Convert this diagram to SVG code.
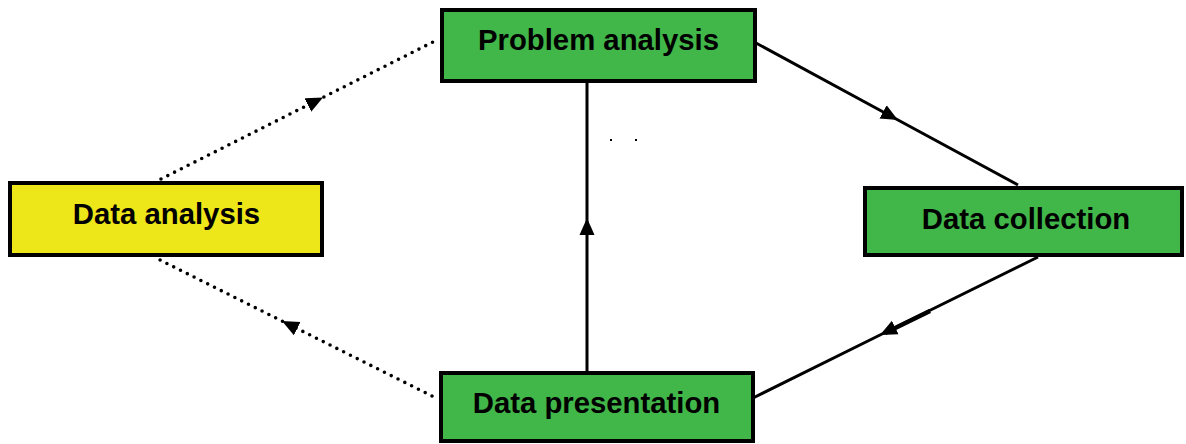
<svg xmlns="http://www.w3.org/2000/svg" width="1186" height="444" viewBox="0 0 1186 444">
<style>
.box{stroke:#000;stroke-width:4}
.green{fill:#41b649}
.yellow{fill:#ede618}
.lbl{font-family:"Liberation Sans",Arial,sans-serif;font-weight:bold;font-size:29.3px;fill:#000;text-anchor:middle}
.solid{fill:none;stroke:#000;stroke-width:3}
.dot{fill:none;stroke:#000;stroke-width:3.6;stroke-linecap:round;stroke-dasharray:0 7.6}
</style>
<defs>
<marker id="ah" viewBox="-17 -8 17 16" refX="0" refY="0" markerWidth="17" markerHeight="16" markerUnits="userSpaceOnUse" orient="auto">
<path d="M0,0 L-17,-7.5 L-17,7.5 Z" fill="#000" stroke="none"/>
</marker>
</defs>
<rect width="1186" height="444" fill="#fff"/>
<g id="connectors">
<polyline class="dot" points="161,179 323,97.4 435,41" marker-mid="url(#ah)"/>
<polyline class="dot" points="432,396 282,321 158,259" marker-mid="url(#ah)"/>
<polyline class="solid" points="756,43 898,120 1018,185" marker-mid="url(#ah)"/>
<polyline class="solid" points="1038,257 880,335 753,398" marker-mid="url(#ah)"/>
<line x1="885" y1="333" x2="930" y2="311" stroke="#000" stroke-width="4.5"/>
<polyline class="solid" points="587,372 587,218 587,80" marker-mid="url(#ah)"/>
</g>
<g id="problem-analysis">
<rect class="box green" x="442" y="10" width="313" height="71"/>
<text class="lbl" x="598.5" y="49.5">Problem analysis</text>
</g>
<g id="data-collection">
<rect class="box green" x="865" y="188" width="317" height="67"/>
<text class="lbl" x="1026" y="228.5">Data collection</text>
</g>
<g id="data-presentation">
<rect class="box green" x="441" y="373" width="312" height="68"/>
<text class="lbl" x="596.5" y="412.5">Data presentation</text>
</g>
<g id="data-analysis">
<rect class="box yellow" x="10" y="183" width="312" height="72"/>
<text class="lbl" x="166.5" y="223.5">Data analysis</text>
</g>
<rect x="610" y="139" width="2" height="2" fill="#000"/>
<rect x="635" y="139" width="2" height="2" fill="#000"/>
</svg>
